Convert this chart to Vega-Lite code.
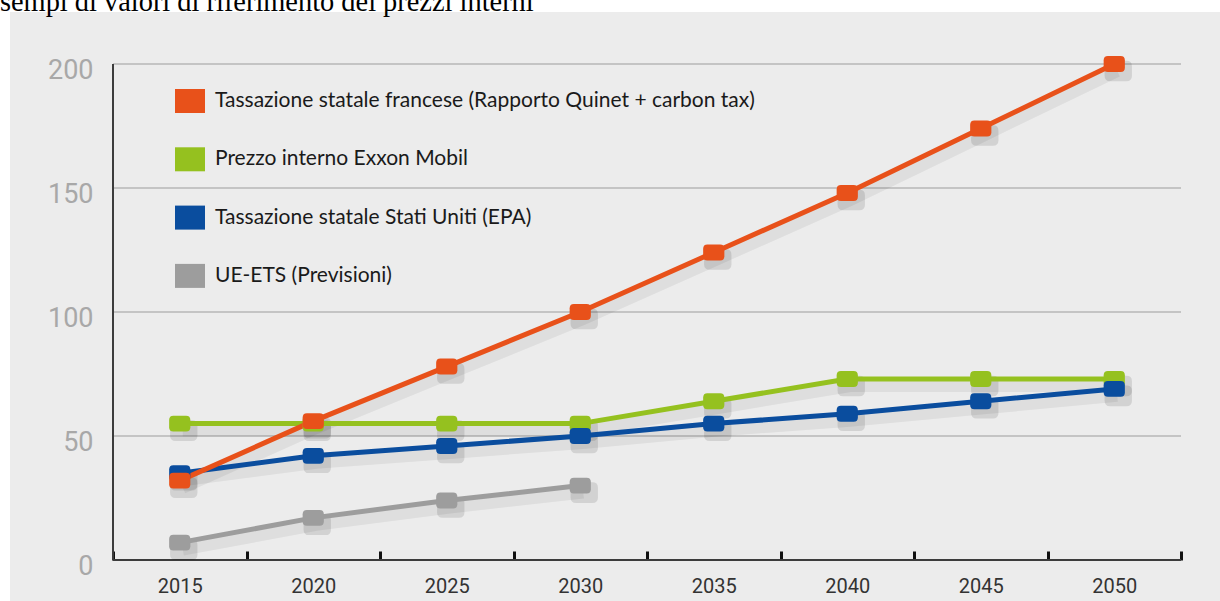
{
  "$schema": "https://vega.github.io/schema/vega-lite/v6.json",
  "width": 1210,
  "height": 589,
  "autosize": {"type": "none"},
  "padding": {"left": 10, "top": 12, "right": 0, "bottom": 0},
  "background": "white",
  "view": {"fill": "#ececec", "stroke": null},
  "title": {
    "text": "Esempi di valori di riferimento dei prezzi interni",
    "anchor": "start",
    "frame": "group",
    "font": "Liberation Serif",
    "fontSize": 28.4,
    "fontWeight": "normal",
    "color": "#000000",
    "baseline": "alphabetic",
    "offset": -27,
    "dx": -27.4
  },
  "config": {
    "axis": {"title": null, "grid": false, "domain": false},
    "axisX": {
      "orient": "bottom",
      "offset": -41,
      "tickBand": "extent",
      "tickSize": -9,
      "tickWidth": 3,
      "tickColor": "#111111",
      "labelFont": "Roboto",
      "labelFontSize": 20,
      "labelColor": "#333333",
      "labelAngle": 0,
      "labelPadding": 25
    },
    "axisY": {
      "orient": "left",
      "offset": -103,
      "ticks": false,
      "labelFont": "Roboto",
      "labelFontSize": 27,
      "labelColor": "#a8a8a8",
      "labelPadding": 20,
      "labelOffset": 6
    }
  },
  "datasets": {
    "prezzi": [
      {"anno": 2015, "serie": "UE-ETS (Previsioni)", "valore": 7},
      {"anno": 2020, "serie": "UE-ETS (Previsioni)", "valore": 17},
      {"anno": 2025, "serie": "UE-ETS (Previsioni)", "valore": 24},
      {"anno": 2030, "serie": "UE-ETS (Previsioni)", "valore": 30},
      {"anno": 2015, "serie": "Prezzo interno Exxon Mobil", "valore": 55},
      {"anno": 2020, "serie": "Prezzo interno Exxon Mobil", "valore": 55},
      {"anno": 2025, "serie": "Prezzo interno Exxon Mobil", "valore": 55},
      {"anno": 2030, "serie": "Prezzo interno Exxon Mobil", "valore": 55},
      {"anno": 2035, "serie": "Prezzo interno Exxon Mobil", "valore": 64},
      {"anno": 2040, "serie": "Prezzo interno Exxon Mobil", "valore": 73},
      {"anno": 2045, "serie": "Prezzo interno Exxon Mobil", "valore": 73},
      {"anno": 2050, "serie": "Prezzo interno Exxon Mobil", "valore": 73},
      {"anno": 2015, "serie": "Tassazione statale Stati Uniti (EPA)", "valore": 35},
      {"anno": 2020, "serie": "Tassazione statale Stati Uniti (EPA)", "valore": 42},
      {"anno": 2025, "serie": "Tassazione statale Stati Uniti (EPA)", "valore": 46},
      {"anno": 2030, "serie": "Tassazione statale Stati Uniti (EPA)", "valore": 50},
      {"anno": 2035, "serie": "Tassazione statale Stati Uniti (EPA)", "valore": 55},
      {"anno": 2040, "serie": "Tassazione statale Stati Uniti (EPA)", "valore": 59},
      {"anno": 2045, "serie": "Tassazione statale Stati Uniti (EPA)", "valore": 64},
      {"anno": 2050, "serie": "Tassazione statale Stati Uniti (EPA)", "valore": 69},
      {"anno": 2015, "serie": "Tassazione statale francese (Rapporto Quinet + carbon tax)", "valore": 32},
      {"anno": 2020, "serie": "Tassazione statale francese (Rapporto Quinet + carbon tax)", "valore": 56},
      {"anno": 2025, "serie": "Tassazione statale francese (Rapporto Quinet + carbon tax)", "valore": 78},
      {"anno": 2030, "serie": "Tassazione statale francese (Rapporto Quinet + carbon tax)", "valore": 100},
      {"anno": 2035, "serie": "Tassazione statale francese (Rapporto Quinet + carbon tax)", "valore": 124},
      {"anno": 2040, "serie": "Tassazione statale francese (Rapporto Quinet + carbon tax)", "valore": 148},
      {"anno": 2045, "serie": "Tassazione statale francese (Rapporto Quinet + carbon tax)", "valore": 174},
      {"anno": 2050, "serie": "Tassazione statale francese (Rapporto Quinet + carbon tax)", "valore": 200}
    ],
    "griglia": [{"v": 50}, {"v": 100}, {"v": 150}, {"v": 200}]
  },
  "data": {"name": "prezzi"},
  "layer": [
    {
      "data": {"name": "griglia"},
      "mark": {"type": "rule", "color": "#9c9c9c", "strokeWidth": 1},
      "encoding": {
        "y": {"field": "v", "type": "quantitative"},
        "x": {"datum": 2015, "type": "ordinal", "bandPosition": 0},
        "x2": {"datum": 2050, "bandPosition": 1}
      }
    },
    {
      "mark": {"type": "rule", "color": "#3c3c3c", "strokeWidth": 1.5},
      "encoding": {
        "x": {"datum": 2015, "type": "ordinal", "bandPosition": 0},
        "y": {"datum": 0, "type": "quantitative"},
        "y2": {"datum": 200}
      }
    },
    {
      "mark": {"type": "rule", "color": "#3c3c3c", "strokeWidth": 1.5},
      "encoding": {
        "y": {"datum": 0, "type": "quantitative"},
        "x": {"datum": 2015, "type": "ordinal", "bandPosition": 0},
        "x2": {"datum": 2050, "bandPosition": 1}
      }
    },
    {
      "mark": {"type": "line", "color": "#000000", "opacity": 0.06, "strokeWidth": 12, "xOffset": 3, "yOffset": 7},
      "encoding": {
        "x": {"field": "anno", "type": "ordinal"},
        "y": {"field": "valore", "type": "quantitative"},
        "detail": {"field": "serie"}
      }
    },
    {
      "mark": {"type": "point", "filled": true, "color": "#000000", "opacity": 0.11, "size": 750, "shape": "M-0.6,-0.75H0.6Q1,-0.75 1,-0.35V0.35Q1,0.75 0.6,0.75H-0.6Q-1,0.75 -1,0.35V-0.35Q-1,-0.75 -0.6,-0.75Z", "xOffset": 4, "yOffset": 7},
      "encoding": {
        "x": {"field": "anno", "type": "ordinal"},
        "y": {"field": "valore", "type": "quantitative"}
      }
    },
    {
      "mark": {"type": "line", "strokeWidth": 5},
      "encoding": {
        "x": {"field": "anno", "type": "ordinal"},
        "y": {"field": "valore", "type": "quantitative"},
        "color": {"field": "serie", "type": "nominal"}
      }
    },
    {
      "mark": {"type": "point", "filled": true, "opacity": 1, "size": 450, "shape": "M-0.6,-0.75H0.6Q1,-0.75 1,-0.35V0.35Q1,0.75 0.6,0.75H-0.6Q-1,0.75 -1,0.35V-0.35Q-1,-0.75 -0.6,-0.75Z"},
      "encoding": {
        "x": {
          "field": "anno",
          "type": "ordinal",
          "scale": {"type": "band", "domain": [2015, 2020, 2025, 2030, 2035, 2040, 2045, 2050], "paddingInner": 0, "paddingOuter": 0.5318, "align": 0.7254}
        },
        "y": {
          "field": "valore",
          "type": "quantitative",
          "scale": {"domain": [-16.53, 220.97], "nice": false, "zero": false},
          "axis": {"values": [0, 50, 100, 150, 200]}
        },
        "color": {
          "field": "serie",
          "type": "nominal",
          "scale": {
            "domain": ["Tassazione statale francese (Rapporto Quinet + carbon tax)", "Prezzo interno Exxon Mobil", "Tassazione statale Stati Uniti (EPA)", "UE-ETS (Previsioni)"],
            "range": ["#e8511a", "#95c11f", "#0a4d9e", "#9d9d9d"]
          },
          "legend": {
            "orient": "none",
            "legendX": 165,
            "legendY": 74,
            "title": null,
            "padding": 0,
            "symbolType": "M-1,-0.8H1V0.8H-1Z",
            "symbolSize": 900,
            "symbolStrokeWidth": 0,
            "symbolOpacity": 1,
            "labelFont": "Lato",
            "labelFontSize": 21,
            "labelColor": "#1a1a1a",
            "labelOffset": 10,
            "labelLimit": 0,
            "rowPadding": 31.3
          }
        }
      }
    }
  ]
}
